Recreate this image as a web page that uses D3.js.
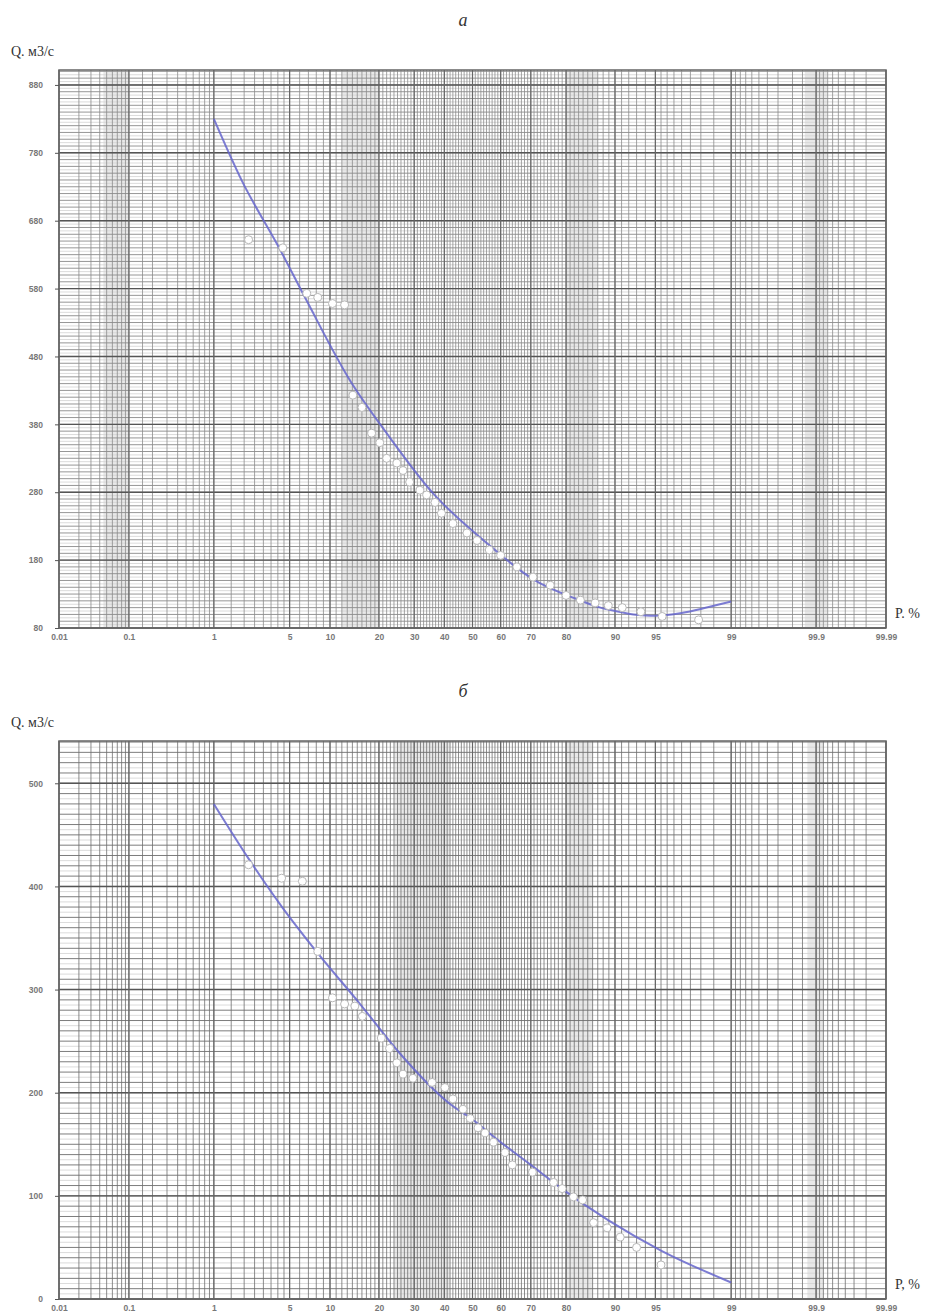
<!DOCTYPE html>
<html>
<head>
<meta charset="utf-8">
<script src="https://cdn.jsdelivr.net/npm/d3@7"></script>
<style>
  body { margin: 0; background: #fff; }
  svg { display: block; }
</style>
</head>
<body>
<svg id="chart" width="927" height="1313"></svg>
<script>
// probability axis (percent) and its labels
var probTicks  = [0.01, 0.1, 1, 5, 10, 20, 30, 40, 50, 60, 70, 80, 90, 95, 99, 99.9, 99.99];
var probLabels = ["0.01", "0.1", "1", "5", "10", "20", "30", "40", "50", "60", "70", "80", "90", "95", "99", "99.9", "99.99"];

// y ticks of both panels
var yTicksA = [80, 180, 280, 380, 480, 580, 680, 780, 880];
var yTicksB = [0, 100, 200, 300, 400, 500];

// panel a: observed flows (P %, Q m3/s)
var obsA_P = [2.2, 4.4, 6.8, 8.2, 10.4, 12.5, 14.1, 16, 18.2, 20.2, 22, 24.8, 26.6, 28.6, 31.8, 34, 36.8, 39, 43, 48, 51.6, 56, 60, 65.5, 70.7, 75.8, 80, 83.4, 86.5, 88.9, 91.1, 93.5, 95.6, 97.9];
var obsA_Q = [652, 640, 573, 567, 558, 556, 423, 405, 367, 353, 330, 323, 312, 295, 283, 276, 265, 249, 234, 220, 209, 195, 187, 170, 155, 143, 128, 121, 117, 113, 110, 104, 97, 92];
// panel a: fitted curve
var fitA_P = [1, 1.9, 4.1, 6.8, 13.5, 22, 36, 54, 71, 82, 87.5, 90, 92.6, 94, 95, 96, 97, 98, 98.6, 99];
var fitA_Q = [830, 739, 640, 562, 445, 367, 279, 209, 151, 124, 110, 105, 100, 98.5, 98, 99, 102, 108, 114, 119];

// panel b: observed flows
var obsB_P = [2.2, 4.3, 6.3, 8.2, 10.4, 12.5, 14.5, 16.1, 20.6, 22.8, 24.8, 26.6, 29.6, 35.8, 40.2, 43, 46.6, 49.2, 52, 54.5, 57.5, 61.5, 64, 70.5, 76.7, 79, 81.8, 83.9, 86.2, 88.7, 90.8, 93, 95.5];
var obsB_Q = [421, 408, 405, 337, 292, 286, 284, 274, 253, 243, 229, 218, 214, 210, 205, 194, 184, 175, 166, 161, 152, 142, 130, 123, 113, 107, 99, 96, 74, 69, 60, 50, 33];
// panel b: fitted curve
var fitB_P = [1, 2.2, 4.4, 8, 15.6, 25.7, 42, 50, 60, 70, 78.5, 89, 95.5, 99];
var fitB_Q = [480, 427, 379, 337, 286, 238, 189, 174, 152, 130, 108, 76, 47, 16];

// darker bands of the scanned paper (P % ranges)
var bandsA = [[0.045, 0.1], [12, 20], [80, 87], [99.86, 99.93]];
var bandsB = [[24, 42], [80, 86], [99.87, 99.92]];

// inverse normal CDF (Acklam) for the probability paper
function probit(p) {
    var a = [-3.969683028665376e+01, 2.209460984245205e+02, -2.759285104469687e+02, 1.383577518672690e+02, -3.066479806614716e+01, 2.506628277459239e+00];
    var b = [-5.447609879822406e+01, 1.615858368580409e+02, -1.556989798598866e+02, 6.680131188771972e+01, -1.328068155288572e+01];
    var c = [-7.784894002430293e-03, -3.223964580411365e-01, -2.400758277161838e+00, -2.549732539343734e+00, 4.374664141464968e+00, 2.938163982698783e+00];
    var d = [7.784695709041462e-03, 3.224671290700398e-01, 2.445134137142996e+00, 3.754408661907416e+00];
    var pl = 0.02425, q, r;
    if (p < pl) {
        q = Math.sqrt(-2 * Math.log(p));
        return (((((c[0]*q+c[1])*q+c[2])*q+c[3])*q+c[4])*q+c[5]) / ((((d[0]*q+d[1])*q+d[2])*q+d[3])*q+1);
    }
    if (p > 1 - pl) {
        q = Math.sqrt(-2 * Math.log(1 - p));
        return -(((((c[0]*q+c[1])*q+c[2])*q+c[3])*q+c[4])*q+c[5]) / ((((d[0]*q+d[1])*q+d[2])*q+d[3])*q+1);
    }
    q = p - 0.5; r = q * q;
    return (((((a[0]*r+a[1])*r+a[2])*r+a[3])*r+a[4])*r+a[5])*q / (((((b[0]*r+b[1])*r+b[2])*r+b[3])*r+b[4])*r+1);
}
function z(pct) { return probit(pct / 100); }

// grid lines of the probability paper (lower half, mirrored)
var gridLow = d3.range(1, 10).map(function(v) { return v / 100; })
    .concat([0.1, 0.15]).concat(d3.range(2, 10).map(function(v) { return v / 10; }))
    .concat(d3.range(2, 10).map(function(v) { return v / 2; }))
    .concat(d3.range(5, 10)).concat(d3.range(10, 50));
var gridProbs = gridLow.concat([50]).concat(gridLow.map(function(v) { return +(100 - v).toFixed(2); }));

var svg = d3.select("#chart");
var left = 59, right = 886;

function drawPanel(o) {
    var x = d3.scaleLinear().domain([z(0.01), z(99.99)]).range([left, right]);
    var y = d3.scaleLinear().domain(o.yDomain).range([o.bottom, o.top]);
    var g = svg.append("g");

    // shaded bands
    g.selectAll("rect.band")
        .data(o.bands)
        .enter()
        .append("rect")
            .attr("x", function(d) { return x(z(d[0])); })
            .attr("width", function(d) { return x(z(d[1])) - x(z(d[0])); })
            .attr("y", o.top)
            .attr("height", o.bottom - o.top)
            .attr("fill", "#000")
            .attr("opacity", 0.09);

    // horizontal grid
    var fine = d3.range(Math.ceil(o.yDomain[0] / 5) * 5, o.yDomain[1], 5);
    g.selectAll("line.h")
        .data(fine)
        .enter()
        .append("line")
            .attr("x1", left).attr("x2", right)
            .attr("y1", function(d) { return y(d); })
            .attr("y2", function(d) { return y(d); })
            .attr("stroke", function(d) { return d % 10 === 0 ? o.hColor : "#d2d2d2"; })
            .attr("stroke-width", function(d) { return d % 10 === 0 ? 0.9 : 0.8; });

    // vertical grid
    g.selectAll("line.v")
        .data(gridProbs)
        .enter()
        .append("line")
            .attr("x1", function(d) { return x(z(d)); })
            .attr("x2", function(d) { return x(z(d)); })
            .attr("y1", o.top).attr("y2", o.bottom)
            .attr("stroke", o.vColor)
            .attr("stroke-width", 0.8);

    // heavier lines at labelled values
    g.selectAll("line.hmaj")
        .data(o.yTicks)
        .enter()
        .append("line")
            .attr("x1", left).attr("x2", right)
            .attr("y1", function(d) { return y(d); })
            .attr("y2", function(d) { return y(d); })
            .attr("stroke", "#555")
            .attr("stroke-width", 1.4);
    g.selectAll("line.vmaj")
        .data(probTicks)
        .enter()
        .append("line")
            .attr("x1", function(d) { return x(z(d)); })
            .attr("x2", function(d) { return x(z(d)); })
            .attr("y1", o.top).attr("y2", o.bottom)
            .attr("stroke", "#666")
            .attr("stroke-width", 1.2);

    // frame
    g.append("rect")
        .attr("x", left).attr("y", o.top)
        .attr("width", right - left).attr("height", o.bottom - o.top)
        .attr("fill", "none")
        .attr("stroke", "#666")
        .attr("stroke-width", 1.5);

    // fitted curve
    var fit = o.fitP.map(function(p, i) { return [p, o.fitQ[i]]; });
    g.append("path")
        .datum(fit)
        .attr("d", d3.line()
            .x(function(d) { return x(z(d[0])); })
            .y(function(d) { return y(d[1]); })
            .curve(d3.curveMonotoneX))
        .attr("fill", "none")
        .attr("stroke", "#6666cc")
        .attr("stroke-width", 2)
        .attr("opacity", 0.85);

    // observed points
    var obs = o.obsP.map(function(p, i) { return [p, o.obsQ[i]]; });
    g.selectAll("circle")
        .data(obs)
        .enter()
        .append("circle")
            .attr("cx", function(d) { return x(z(d[0])); })
            .attr("cy", function(d) { return y(d[1]); })
            .attr("r", 4)
            .attr("fill", "#fff")
            .attr("stroke", "#b8b8b8")
            .attr("stroke-width", 1);

    // axes
    var ay = g.append("g")
        .attr("transform", "translate(" + left + ",0)")
        .call(d3.axisLeft(y).tickValues(o.yTicks).tickSize(4).tickPadding(12).tickFormat(d3.format("d")));
    ay.select(".domain").remove();
    ay.selectAll("line").attr("stroke", "#555");
    ay.selectAll("text").attr("fill", "#777").style("font-family", "Liberation Sans, Arial, sans-serif").style("font-size", "8.5px").style("font-weight", "bold");

    var ax = g.append("g")
        .attr("transform", "translate(0," + o.bottom + ")")
        .call(d3.axisBottom(x).tickValues(probTicks.map(z)).tickSize(0).tickPadding(6)
            .tickFormat(function(d, i) { return probLabels[i]; }));
    ax.select(".domain").remove();
    ax.selectAll("text").attr("fill", "#777").style("font-family", "Liberation Sans, Arial, sans-serif").style("font-size", "8.5px").style("font-weight", "bold");

    // labels
    svg.append("text")
        .attr("x", 463).attr("y", o.top - 44)
        .attr("text-anchor", "middle")
        .style("font-family", "Liberation Serif, Times New Roman, serif")
        .style("font-style", "italic")
        .style("font-size", "18px")
        .attr("fill", "#333")
        .text(o.title);
    svg.append("text")
        .attr("x", 11).attr("y", o.top - 14)
        .style("font-family", "Liberation Serif, Times New Roman, serif")
        .style("font-size", "14px")
        .attr("fill", "#333")
        .text("Q. м3/с");
    svg.append("text")
        .attr("x", 895).attr("y", o.bottom - 10)
        .style("font-family", "Liberation Serif, Times New Roman, serif")
        .style("font-size", "14px")
        .attr("fill", "#333")
        .text(o.pLabel);
}

drawPanel({
    title: "а", pLabel: "P. %",
    top: 70, bottom: 628, yDomain: [80, 902], yTicks: yTicksA,
    obsP: obsA_P, obsQ: obsA_Q, fitP: fitA_P, fitQ: fitA_Q,
    bands: bandsA, vColor: "#8c8c8c", hColor: "#8a8a8a"
});
drawPanel({
    title: "б", pLabel: "P, %",
    top: 741, bottom: 1299, yDomain: [0, 541], yTicks: yTicksB,
    obsP: obsB_P, obsQ: obsB_Q, fitP: fitB_P, fitQ: fitB_Q,
    bands: bandsB, vColor: "#6e6e6e", hColor: "#6e6e6e"
});
</script>
</body>
</html>
